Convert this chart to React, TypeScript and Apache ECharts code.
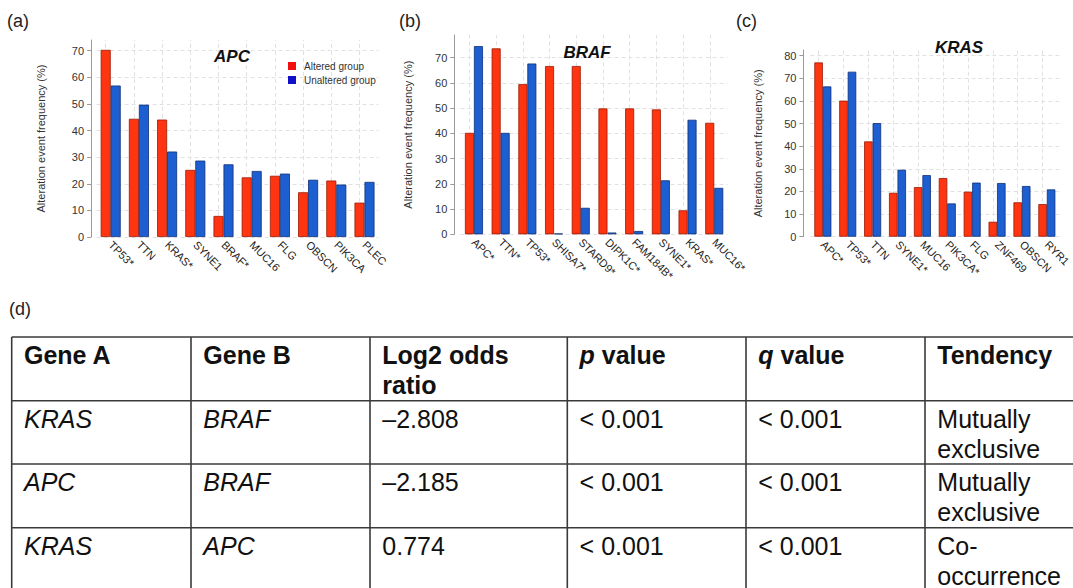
import React, { useEffect, useRef } from 'react';
import * as echarts from 'echarts';

// ---------- data ----------
const apcGenes = ['TP53*', 'TTN', 'KRAS*', 'SYNE1', 'BRAF*', 'MUC16', 'FLG', 'OBSCN', 'PIK3CA', 'PLEC'];
const apcAltered = [70.3, 44.4, 44.1, 25.2, 7.9, 22.4, 23.0, 16.8, 21.2, 12.9];
const apcUnaltered = [56.9, 49.7, 32.1, 28.7, 27.3, 24.8, 23.8, 21.5, 19.7, 20.7];

const brafGenes = ['APC*', 'TTN*', 'TP53*', 'SHISA7*', 'STARD9*', 'DIPK1C*', 'FAM184B*', 'SYNE1*', 'KRAS*', 'MUC16*'];
const brafAltered = [40.2, 73.7, 59.5, 66.7, 66.7, 49.9, 49.9, 49.5, 9.5, 44.2];
const brafUnaltered = [74.6, 40.2, 67.7, 0.3, 10.5, 0.7, 1.3, 21.4, 45.4, 18.4];

const krasGenes = ['APC*', 'TP53*', 'TTN', 'SYNE1*', 'MUC16', 'PIK3CA*', 'FLG', 'ZNF469', 'OBSCN', 'RYR1'];
const krasAltered = [77.0, 60.1, 42.1, 19.4, 21.9, 25.9, 19.9, 6.6, 15.2, 14.4];
const krasUnaltered = [66.4, 72.9, 50.2, 29.6, 27.2, 14.7, 23.9, 23.7, 22.4, 20.9];

const ticks70 = [0, 10, 20, 30, 40, 50, 60, 70];
const ticks80 = [0, 10, 20, 30, 40, 50, 60, 70, 80];

const panelTitles = ['APC', 'BRAF', 'KRAS'];
const panelLetters = ['(a)', '(b)', '(c)', '(d)'];
const legendNames = ['Altered group', 'Unaltered group'];
const yAxisName = 'Alteration event frequency (%)';

const tableHeader = ['Gene A', 'Gene B', 'Log2 odds\nratio', 'p value', 'q value', 'Tendency'];
const tableRows = [
  ['KRAS', 'BRAF', '–2.808', '< 0.001', '< 0.001', 'Mutually\nexclusive'],
  ['APC', 'BRAF', '–2.185', '< 0.001', '< 0.001', 'Mutually\nexclusive'],
  ['KRAS', 'APC', '0.774', '< 0.001', '< 0.001', 'Co-\noccurrence'],
];

// ---------- styles / layout ----------
const FONT = '"Liberation Sans", Arial, sans-serif';
const RED = '#ff3511';
const RED_DARK = '#9a1800';
const BLUE = '#1d5fd0';
const BLUE_DARK = '#0d2f78';

const panels = [
  { genes: apcGenes, alt: apcAltered, unalt: apcUnaltered, ticks: ticks70, max: 74, left: 96.6, width: 282, top: 40, height: 197, offset: 5.5, barWidth: 10, nameGap: 45, titleX: 232, titleY: 56, letterX: 7 },
  { genes: brafGenes, alt: brafAltered, unalt: brafUnaltered, ticks: ticks70, max: 79, left: 460.6, width: 267, top: 35, height: 199.3, offset: 6.3, barWidth: 9, nameGap: 41, titleX: 587, titleY: 52, letterX: 399 },
  { genes: krasGenes, alt: krasAltered, unalt: krasUnaltered, ticks: ticks80, max: 82.5, left: 810.4, width: 258, top: 50, height: 186.7, offset: 7, barWidth: 8.5, nameGap: 40, titleX: 959, titleY: 47, letterX: 736 },
];

const colLines = [11.7, 191, 370, 567.3, 746, 925];
const rowLines = [337, 400.7, 464, 527.7];

function buildOption() {
  const grid: any[] = [];
  const xAxis: any[] = [];
  const yAxis: any[] = [];
  const series: any[] = [];
  const graphic: any[] = [];

  panels.forEach((p, i) => {
    grid.push({ left: p.left, top: p.top, width: p.width, height: p.height, containLabel: false });
    xAxis.push({
      type: 'category',
      gridIndex: i,
      data: p.genes,
      boundaryGap: true,
      axisLine: { show: false },
      axisTick: { show: false },
      splitLine: { show: false },
      axisLabel: { interval: 0, rotate: -45, fontSize: 11, color: '#222', margin: 6, fontFamily: FONT },
    });
    yAxis.push({
      type: 'value',
      gridIndex: i,
      min: 0,
      max: p.max,
      interval: 10,
      offset: p.offset,
      name: yAxisName,
      nameLocation: 'middle',
      nameGap: p.nameGap,
      nameRotate: 90,
      nameTextStyle: { fontSize: 11, color: '#333', fontFamily: FONT },
      axisLine: { show: true, lineStyle: { color: '#9a9a9a', width: 1 } },
      axisTick: { show: true, length: 4, lineStyle: { color: '#9a9a9a' }, customValues: p.ticks },
      axisLabel: {
        fontSize: 11,
        color: '#333',
        margin: 7,
        fontFamily: FONT,
        formatter: (v: number) => (p.ticks.indexOf(v) >= 0 ? String(v) : ''),
      },
      splitLine: { show: false },
    });
    const gridLines = [
      ...p.ticks.map((v) => ({ yAxis: v })),
      ...p.genes.map((g) => ({ xAxis: g })),
    ];
    series.push({
      type: 'bar',
      name: legendNames[0],
      xAxisIndex: i,
      yAxisIndex: i,
      data: p.alt,
      barWidth: p.barWidth,
      barGap: '0%',
      z: 2,
      itemStyle: { color: RED, borderColor: RED_DARK, borderWidth: 0.8 },
      emphasis: { disabled: true },
      markLine: {
        silent: true,
        z: 1,
        symbol: ['none', 'none'],
        label: { show: false },
        emphasis: { disabled: true },
        lineStyle: { type: [4, 3], color: '#e1e1e1', width: 1 },
        data: gridLines,
      },
    });
    series.push({
      type: 'bar',
      name: legendNames[1],
      xAxisIndex: i,
      yAxisIndex: i,
      data: p.unalt,
      barWidth: p.barWidth,
      barGap: '0%',
      z: 2,
      itemStyle: { color: BLUE, borderColor: BLUE_DARK, borderWidth: 0.8 },
      emphasis: { disabled: true },
    });

    graphic.push({
      type: 'text',
      x: p.titleX,
      y: p.titleY,
      z: 100,
      style: {
        text: panelTitles[i],
        fontSize: 17,
        fontWeight: 'bold',
        fontStyle: 'italic',
        fontFamily: FONT,
        fill: '#111',
        align: 'center',
        verticalAlign: 'middle',
      },
    });
    graphic.push({
      type: 'text',
      x: p.letterX,
      y: 21,
      z: 100,
      style: { text: panelLetters[i], fontSize: 18, fontFamily: FONT, fill: '#222', verticalAlign: 'middle' },
    });
  });

  // (d) label
  graphic.push({
    type: 'text',
    x: 9,
    y: 309,
    z: 100,
    style: { text: panelLetters[3], fontSize: 18, fontFamily: FONT, fill: '#222', verticalAlign: 'middle' },
  });

  // table lines
  rowLines.forEach((y) => {
    graphic.push({
      type: 'line',
      z: 50,
      shape: { x1: colLines[0], y1: y, x2: 1080, y2: y },
      style: { stroke: '#3a3a3a', lineWidth: 1.6 },
    });
  });
  colLines.forEach((x) => {
    graphic.push({
      type: 'line',
      z: 50,
      shape: { x1: x, y1: rowLines[0], x2: x, y2: 600 },
      style: { stroke: '#3a3a3a', lineWidth: 1.6 },
    });
  });

  const textX = colLines.map((x) => x + 12.3);
  // header
  tableHeader.forEach((h, c) => {
    let style: any = {
      fontSize: 25,
      fontWeight: 'bold',
      fontFamily: FONT,
      fill: '#111',
      lineHeight: 30,
      verticalAlign: 'top',
    };
    if (c === 3 || c === 4) {
      const [first, ...rest] = h.split(' ');
      style = {
        ...style,
        text: `{bi|${first}} {b|${rest.join(' ')}}`,
        rich: {
          bi: { fontSize: 25, fontWeight: 'bold', fontStyle: 'italic', fontFamily: FONT, fill: '#111' },
          b: { fontSize: 25, fontWeight: 'bold', fontFamily: FONT, fill: '#111' },
        },
      };
    } else {
      style.text = h;
    }
    graphic.push({ type: 'text', z: 100, x: textX[c], y: rowLines[0] + 3, style });
  });
  tableRows.forEach((row, r) => {
    row.forEach((cell, c) => {
      graphic.push({
        type: 'text',
        z: 100,
        x: textX[c],
        y: rowLines[r + 1] + 3,
        style: {
          text: cell,
          fontSize: 25,
          fontStyle: c < 2 ? 'italic' : 'normal',
          fontFamily: FONT,
          fill: '#111',
          lineHeight: 30,
          verticalAlign: 'top',
        },
      });
    });
  });

  return {
    animation: false,
    backgroundColor: '#ffffff',
    textStyle: { fontFamily: FONT },
    legend: {
      show: true,
      orient: 'vertical',
      left: 283,
      top: 56,
      itemWidth: 8,
      itemHeight: 8,
      itemGap: 4,
      selectedMode: false,
      textStyle: { fontSize: 10, color: '#333', fontFamily: FONT, padding: [0, 0, 0, 3] },
      data: [
        { name: legendNames[0], icon: 'rect', itemStyle: { color: '#f01010', borderWidth: 0 } },
        { name: legendNames[1], icon: 'rect', itemStyle: { color: '#1010c8', borderWidth: 0 } },
      ],
    },
    grid,
    xAxis,
    yAxis,
    series,
    graphic,
  };
}

export default function App() {
  const ref = useRef<HTMLDivElement>(null);
  useEffect(() => {
    document.body.style.margin = '0';
    if (!ref.current) return;
    const chart = echarts.init(ref.current, undefined, { renderer: 'svg' });
    chart.setOption(buildOption() as any);
    return () => chart.dispose();
  }, []);
  return <div ref={ref} style={{ width: 1073, height: 588, background: '#fff' }} />;
}
